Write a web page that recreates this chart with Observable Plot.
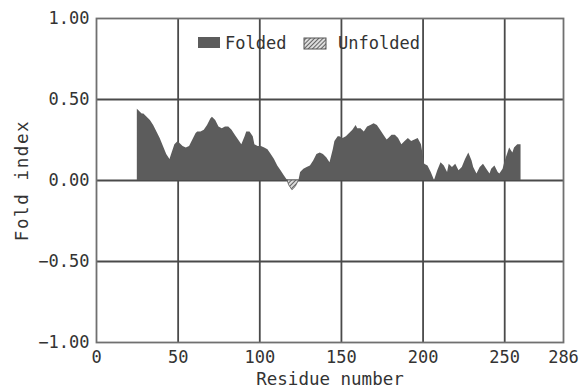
<!DOCTYPE html>
<html>
<head>
<meta charset="utf-8">
<script src="https://cdn.jsdelivr.net/npm/d3@7"></script>
<script src="https://cdn.jsdelivr.net/npm/@observablehq/plot@0.6"></script>
<style>
  html, body { margin: 0; padding: 0; background: #fff; }
  #chart svg { display: block; }
</style>
</head>
<body>
<div id="chart"></div>
<script>
const residues = [25,26,27,28,29,31,33,35,37,39,41,43,45,46,48,50,51,53,55,57,59,61,62,64,66,68,70,71,73,75,77,79,81,83,85,87,89,91,92,94,96,97,99,101,103,105,107,109,111,113,115,117,118,120,122,124,125,127,129,131,133,135,137,139,141,143,145,146,148,149,151,153,155,157,159,160,162,164,166,168,170,172,174,176,178,179,181,183,185,187,189,191,193,195,197,199,200,201,203,205,207,209,211,213,215,216,218,220,222,224,226,228,230,231,233,235,237,239,241,242,244,246,247,249,250,252,253,255,256,258,260];
const foldIndex = [0.44,0.43,0.42,0.41,0.41,0.39,0.37,0.34,0.30,0.26,0.21,0.16,0.13,0.16,0.22,0.24,0.23,0.21,0.20,0.21,0.25,0.29,0.30,0.30,0.31,0.34,0.38,0.39,0.37,0.33,0.32,0.33,0.33,0.31,0.28,0.25,0.22,0.27,0.30,0.30,0.27,0.22,0.21,0.21,0.20,0.19,0.16,0.13,0.09,0.06,0.03,0.00,-0.03,-0.06,-0.04,0.00,0.05,0.07,0.08,0.09,0.12,0.16,0.17,0.16,0.14,0.11,0.19,0.24,0.27,0.27,0.26,0.27,0.29,0.31,0.34,0.32,0.32,0.30,0.33,0.34,0.35,0.34,0.31,0.28,0.25,0.26,0.28,0.28,0.26,0.22,0.24,0.26,0.24,0.25,0.26,0.22,0.16,0.10,0.09,0.05,0.00,0.06,0.11,0.09,0.05,0.10,0.08,0.10,0.06,0.08,0.13,0.17,0.12,0.08,0.04,0.08,0.10,0.07,0.04,0.07,0.09,0.05,0.04,0.07,0.11,0.17,0.20,0.17,0.20,0.22,0.22];
const xTicks = [0, 50, 100, 150, 200, 250, 286];
const yTicks = [-1, -0.5, 0, 0.5, 1];
const xGrid = [50, 100, 150, 200, 250];
const yGrid = [-0.5, 0, 0.5];
const seriesNames = ["Folded", "Unfolded"];
const xTitle = "Residue number";
const yTitle = "Fold index";

const data = residues.map((r, i) => ({r, v: foldIndex[i]}));
const uStart = data.findIndex(d => d.v < 0) - 1;
const uEnd = data.length - 1 - [...data].reverse().findIndex(d => d.v < 0) + 1;
const unfoldedData = data.slice(uStart, uEnd + 1).map(d => ({r: d.r, v: Math.min(d.v, 0)}));

const FONT = "'DejaVu Sans Mono', monospace";
const GRAY = "#5c5c5c";

const plot = Plot.plot({
  width: 583,
  height: 390,
  marginLeft: 96,
  marginRight: 20,
  marginTop: 18,
  marginBottom: 48,
  style: {fontFamily: FONT, fontSize: "17px", color: "#333", background: "#fff"},
  x: {domain: [0, 286], label: null},
  y: {domain: [-1, 1], label: null},
  marks: [
    Plot.ruleX(xGrid, {stroke: "#4a4a4a", strokeWidth: 1.8}),
    Plot.ruleY(yGrid, {stroke: "#4a4a4a", strokeWidth: 1.8}),
    Plot.areaY(data, {x: "r", y: d => Math.max(d.v, 0), fill: GRAY}),
    Plot.areaY(unfoldedData, {x: "r", y: "v", fill: "url(#hatch)", stroke: "#555", strokeWidth: 0.8}),
    Plot.frame({stroke: "#707070", strokeWidth: 1.8}),
    Plot.axisX(xTicks, {tickSize: 0, tickPadding: 8, fontSize: 17, tickFormat: d => String(d)}),
    Plot.axisY(yTicks, {tickSize: 0, tickPadding: 7, fontSize: 17, tickFormat: d3.format(".2f")}),
    Plot.text([xTitle], {frameAnchor: "bottom", dy: 42, lineAnchor: "bottom", fontSize: 17.5, text: d => d}),
    Plot.text([yTitle], {frameAnchor: "left", dx: -74, rotate: -90, textAnchor: "middle", fontSize: 17.5, text: d => d, style: "letter-spacing:1.6px"})
  ]
});

const svg = d3.select(plot);
svg.selectAll("text").filter(function() { return this.textContent === yTitle; })
  .style("letter-spacing", "1.6px");
const defs = svg.insert("defs", ":first-child");
const pat = defs.append("pattern")
  .attr("id", "hatch").attr("patternUnits", "userSpaceOnUse")
  .attr("width", 3).attr("height", 3)
  .attr("patternTransform", "rotate(45)");
pat.append("rect").attr("width", 3).attr("height", 3).attr("fill", "#ddd");
pat.append("line").attr("x1", 0).attr("y1", 0).attr("x2", 0).attr("y2", 3)
  .attr("stroke", "#444").attr("stroke-width", 1.6);

// legend inside the plot area
const lg = svg.append("g").attr("font-family", FONT).attr("font-size", 17)
  .attr("fill", "#333").attr("text-anchor", "start");
lg.append("rect").attr("x", 198).attr("y", 37).attr("width", 22).attr("height", 11).attr("fill", GRAY);
lg.append("text").attr("x", 225).attr("y", 49).attr("text-anchor", "start").text(seriesNames[0]);
lg.append("rect").attr("x", 304).attr("y", 38).attr("width", 22).attr("height", 11)
  .attr("fill", "url(#hatch)").attr("stroke", "#555").attr("stroke-width", 1);
lg.append("text").attr("x", 338).attr("y", 49).attr("text-anchor", "start").text(seriesNames[1]);

document.getElementById("chart").appendChild(plot);
</script>
</body>
</html>
